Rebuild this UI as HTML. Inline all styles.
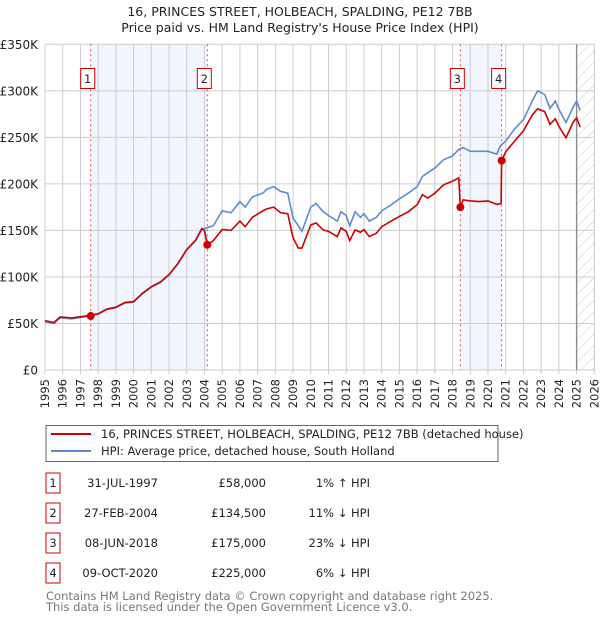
<!DOCTYPE html>
<html><head><meta charset="utf-8"><style>
body{margin:0;background:#fff;font-family:"DejaVu Sans","Liberation Sans",sans-serif;}
#wrap{position:relative;width:600px;height:620px;overflow:hidden;}
svg{position:absolute;left:0;top:0;}
</style></head><body><div id="wrap">
<svg id="c" width="600" height="620"></svg>
</div>
<script>
const hpiYears=[1995.0,1995.5,1995.85,1996.5,1997.5,1998.0,1998.5,1999.0,1999.5,2000.0,2000.5,2001.0,2001.5,2002.0,2002.5,2003.0,2003.5,2003.85,2004.0,2004.5,2005.0,2005.5,2006.0,2006.3,2006.7,2007.3,2007.5,2007.9,2008.3,2008.7,2009.0,2009.3,2009.5,2010.0,2010.3,2010.7,2011.0,2011.5,2011.7,2012.0,2012.2,2012.5,2012.8,2013.0,2013.3,2013.7,2014.0,2014.5,2015.0,2015.5,2016.0,2016.3,2016.6,2017.0,2017.5,2018.0,2018.35,2018.6,2019.0,2019.5,2020.0,2020.5,2020.7,2021.0,2021.5,2022.0,2022.5,2022.8,2023.2,2023.5,2023.8,2024.0,2024.4,2024.8,2025.0,2025.2];
const hpiValues=[52,50,56,55,58,60,65,67,72,73,82,89,94,102,114,129,139,151,152,155,171,169,181,175,186,190,194,197,192,190,163,155,149,175,179,170,166,160,170,166,155,170,164,168,160,164,171,177,184,190,197,208,212,217,226,230,237,239,235,235,235,232,241,246,259,269,289,300,296,281,289,280,266,282,289,279];
const paidYears=[1995.0,1995.5,1995.85,1996.5,1997.5,1998.0,1998.5,1999.0,1999.5,2000.0,2000.5,2001.0,2001.5,2002.0,2002.5,2003.0,2003.5,2003.85,2004.0,2004.16,2004.5,2005.0,2005.5,2006.0,2006.3,2006.7,2007.3,2007.5,2007.9,2008.3,2008.7,2009.0,2009.3,2009.5,2010.0,2010.3,2010.7,2011.0,2011.5,2011.7,2012.0,2012.2,2012.5,2012.8,2013.0,2013.3,2013.7,2014.0,2014.5,2015.0,2015.5,2016.0,2016.3,2016.6,2017.0,2017.5,2018.0,2018.35,2018.44,2018.6,2019.0,2019.5,2020.0,2020.5,2020.74,2020.77,2021.0,2021.5,2022.0,2022.5,2022.8,2023.2,2023.5,2023.8,2024.0,2024.4,2024.8,2025.0,2025.2];
const paidValues=[53,51,57,56,58.5,60.5,65.5,67.5,72.5,73.5,82.5,89.5,94.5,102.5,114.5,129.5,139.5,152,150,134.5,139,151,150,160,154,164,171,173,175,169,168,142,131,131,156,158,150.5,149,143.4,152.6,149,139,150.5,148,151,143.4,147,154,159.7,165,170,177.6,188.4,184.8,190,199,203,206.6,175,182.8,181.7,181,181.7,178,179,225,234.5,246,257,274,280.6,277.6,264,270,262,249.5,266,271,261];
const saleYears=[1997.58,2004.16,2018.44,2020.77];
const saleValues=[58,134.5,175,225];
const saleLabels=["1","2","3","4"];
const yTicks=[0,50,100,150,200,250,300,350];
const yTickLabels=["£0","£50K","£100K","£150K","£200K","£250K","£300K","£350K"];
const xTicks=[1995,1996,1997,1998,1999,2000,2001,2002,2003,2004,2005,2006,2007,2008,2009,2010,2011,2012,2013,2014,2015,2016,2017,2018,2019,2020,2021,2022,2023,2024,2025,2026];

const X0=45,X1=594.3,Y0=370,Y1=44.3;
const xs=y=>X0+(y-1995)/31*(X1-X0);
const ys=v=>Y0-v/350*(Y0-Y1);
const NS="http://www.w3.org/2000/svg";
const svg=document.getElementById('c');
function mk(t,a,p){const e=document.createElementNS(NS,t);for(const k in a)e.setAttribute(k,a[k]);(p||svg).appendChild(e);return e;}

// defs hatch
const defs=mk('defs',{});
const pat=mk('pattern',{id:'hatch',width:8,height:8,patternUnits:'userSpaceOnUse',patternTransform:'rotate(45)'},defs);
mk('line',{x1:0,y1:0,x2:0,y2:8,stroke:'#ccc','stroke-width':1},pat);

// titles
let t=mk('text',{x:300,y:16,'text-anchor':'middle','font-size':'12.5',fill:'#222'});t.textContent="16, PRINCES STREET, HOLBEACH, SPALDING, PE12 7BB";

t=mk('text',{x:300,y:32,'text-anchor':'middle','font-size':'12.5',fill:'#222'});t.textContent="Price paid vs. HM Land Registry's House Price Index (HPI)";


// shaded bands
for(let i=0;i<saleYears.length;i+=2){
  const r=mk('rect',{x:xs(saleYears[i]),y:Y1,width:xs(saleYears[i+1])-xs(saleYears[i]),height:Y0-Y1,fill:'#eef3fc',opacity:0.8});
  
}
// hatch future
const hr=mk('rect',{x:xs(2025),y:Y1,width:X1-xs(2025),height:Y0-Y1,fill:'url(#hatch)'});


// grid
yTicks.forEach((v,i)=>{
  const l=mk('line',{x1:X0,x2:X1,y1:ys(v),y2:ys(v),stroke:'#ccc','stroke-width':1});
  
  const tx=mk('text',{x:38,y:ys(v)+4.5,'text-anchor':'end','font-size':'12',fill:'#222'});tx.textContent=yTickLabels[i];
  
});
xTicks.forEach(y=>{
  const l=mk('line',{x1:xs(y),x2:xs(y),y1:Y1,y2:Y0+4,stroke:'#ccc','stroke-width':1});
  
  const tx=mk('text',{x:0,y:0,'text-anchor':'end','font-size':'11.5',fill:'#222',transform:`translate(${xs(y)+4},${Y0+9}) rotate(-90)`});tx.textContent=y;
  
});
const nl=mk('line',{x1:xs(2025),x2:xs(2025),y1:Y1,y2:Y0,stroke:'#888','stroke-width':1.3});


// sale vlines + labels
saleYears.forEach((y,i)=>{
  const l=mk('line',{x1:xs(y),x2:xs(y),y1:Y1,y2:Y0,stroke:'#e05050','stroke-width':1,'stroke-dasharray':'2,3'});
  
  const cx=xs(y)-3;
  const b=mk('rect',{x:cx-7,y:68.5,width:14,height:20,fill:'#fff',stroke:'#cc0000','stroke-width':1});
  
  const tx=mk('text',{x:cx,y:83,'text-anchor':'middle','font-size':'11.5',fill:'#222'});tx.textContent=saleLabels[i];
  
});

// lines
const hp=mk('polyline',{points:hpiYears.map((y,i)=>xs(y)+','+ys(hpiValues[i])).join(' '),fill:'none',stroke:'#5b8bd0','stroke-width':1.6});

const pp=mk('polyline',{points:paidYears.map((y,i)=>xs(y)+','+ys(paidValues[i])).join(' '),fill:'none',stroke:'#cc0000','stroke-width':1.6});

saleYears.forEach((y,i)=>{
  const c=mk('circle',{cx:xs(y),cy:ys(saleValues[i]),r:4,fill:'#cc0000'});
  
});

// legend
const lg=mk('g',{});

mk('rect',{x:46,y:425.5,width:452,height:36,fill:'#fff',stroke:'#666','stroke-width':1},lg);
mk('line',{x1:51,x2:91,y1:434,y2:434,stroke:'#cc0000','stroke-width':2},lg);
mk('line',{x1:51,x2:91,y1:451,y2:451,stroke:'#5b8bd0','stroke-width':2},lg);
t=mk('text',{x:101,y:438,'font-size':'11.5',fill:'#222'},lg);t.textContent="16, PRINCES STREET, HOLBEACH, SPALDING, PE12 7BB (detached house)";

t=mk('text',{x:101,y:455,'font-size':'11.5',fill:'#222'},lg);t.textContent="HPI: Average price, detached house, South Holland";


// table
const dates=["31-JUL-1997","27-FEB-2004","08-JUN-2018","09-OCT-2020"];
const prices=["£58,000","£134,500","£175,000","£225,000"];
const diffs=["1% ↑ HPI","11% ↓ HPI","23% ↓ HPI","6% ↓ HPI"];
dates.forEach((d,i)=>{
  const cy=483+i*30;
  const b=mk('rect',{x:46,y:cy-10,width:14,height:20,fill:'#fff',stroke:'#cc0000','stroke-width':1});
  
  let tx=mk('text',{x:53,y:cy+4,'text-anchor':'middle','font-size':'11.5',fill:'#222'});tx.textContent=saleLabels[i];
  
  tx=mk('text',{x:158,y:cy+4,'text-anchor':'end','font-size':'11.5',fill:'#222'});tx.textContent=d;
  
  tx=mk('text',{x:266,y:cy+4,'text-anchor':'end','font-size':'11.5',fill:'#222'});tx.textContent=prices[i];
  
  tx=mk('text',{x:370,y:cy+4,'text-anchor':'end','font-size':'11.5',fill:'#222'});tx.textContent=diffs[i];
  
});
t=mk('text',{x:46,y:600,'font-size':'11.5',fill:'#777'});t.textContent="Contains HM Land Registry data © Crown copyright and database right 2025.";

t=mk('text',{x:46,y:611,'font-size':'11.5',fill:'#777'});t.textContent="This data is licensed under the Open Government Licence v3.0.";

</script></body></html>
